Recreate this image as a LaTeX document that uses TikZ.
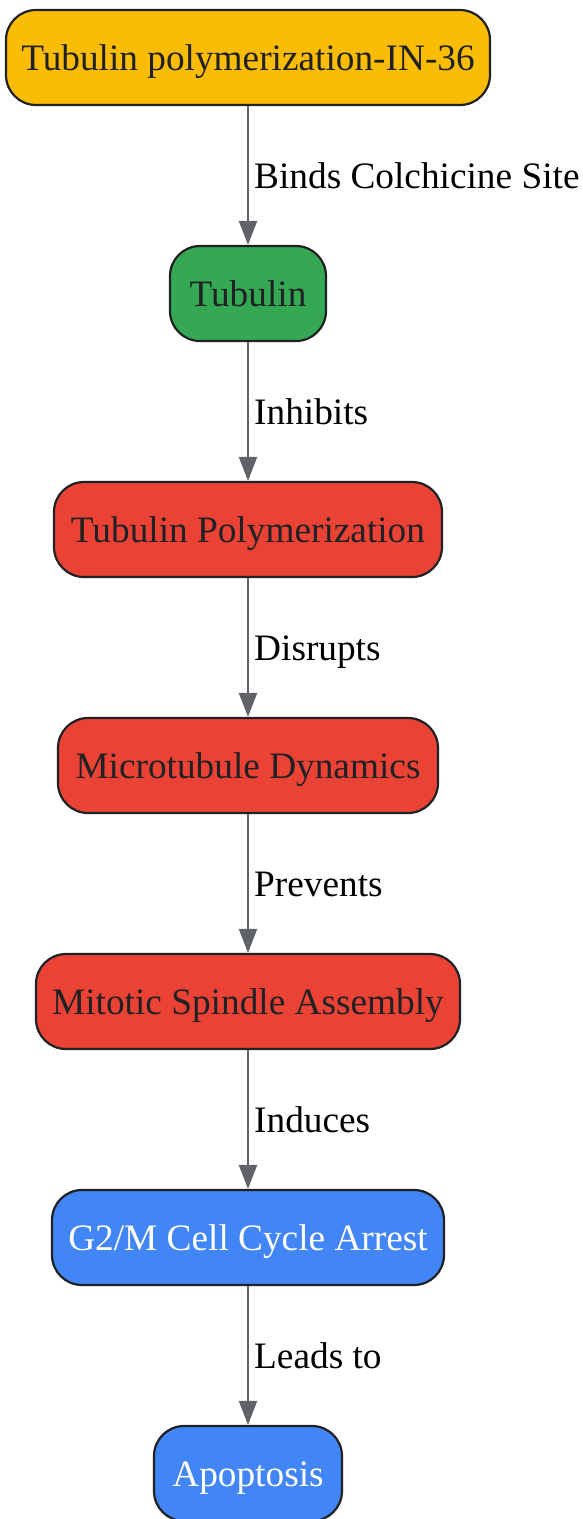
\documentclass[tikz,border=0pt]{standalone}
\usepackage{fontspec}
\setmainfont{Liberation Serif}
\usetikzlibrary{arrows.meta}
\definecolor{cOrange}{HTML}{FBBC05}
\definecolor{cGreen}{HTML}{34A853}
\definecolor{cRed}{HTML}{EA4335}
\definecolor{cBlue}{HTML}{4285F4}
\definecolor{cBorder}{HTML}{202124}
\definecolor{cArrow}{HTML}{5F6368}
\begin{document}
\begin{tikzpicture}[x=1pt,y=-1pt,
  box/.style={draw=cBorder, line width=2.2pt, rounded corners=30pt,
    minimum height=95pt, inner xsep=4pt, inner ysep=0pt,
    text height=25pt, text depth=0pt,
    font=\fontsize{37.3}{44}\selectfont, text=cBorder},
  conn/.style={draw=cArrow, line width=2.4pt, -{Triangle[width=18pt,length=24pt]}},
  lbl/.style={anchor=west, inner sep=0pt, text height=25pt, text depth=0pt,
    font=\fontsize{37.3}{44}\selectfont, text=black, xshift=5pt}]
\useasboundingbox (0,0) rectangle (583,1519);
\node[box, fill=cOrange, minimum width=484pt] (n1) at (248,57.5) {Tubulin polymerization-IN-36};
\node[box, fill=cGreen, minimum width=156pt] (n2) at (248,293.5) {Tubulin};
\node[box, fill=cRed, minimum width=388pt] (n3) at (248,529.5) {Tubulin Polymerization};
\node[box, fill=cRed, minimum width=380pt] (n4) at (248,765.5) {Microtubule Dynamics};
\node[box, fill=cRed, minimum width=424pt] (n5) at (248,1001.5) {Mitotic Spindle Assembly};
\node[box, fill=cBlue, minimum width=392pt, text=white] (n6) at (248,1237.5) {G2/M Cell Cycle Arrest};
\node[box, fill=cBlue, minimum width=188pt, text=white] (n7) at (248,1473.5) {Apoptosis};
\draw[conn] (n1) -- node[lbl] (l1) {Binds Colchicine Site} (n2);
\draw[conn] (n2) -- node[lbl] (l2) {Inhibits} (n3);
\draw[conn] (n3) -- node[lbl] (l3) {Disrupts} (n4);
\draw[conn] (n4) -- node[lbl] (l4) {Prevents} (n5);
\draw[conn] (n5) -- node[lbl] (l5) {Induces} (n6);
\draw[conn] (n6) -- node[lbl] (l6) {Leads to} (n7);
\end{tikzpicture}
\end{document}
